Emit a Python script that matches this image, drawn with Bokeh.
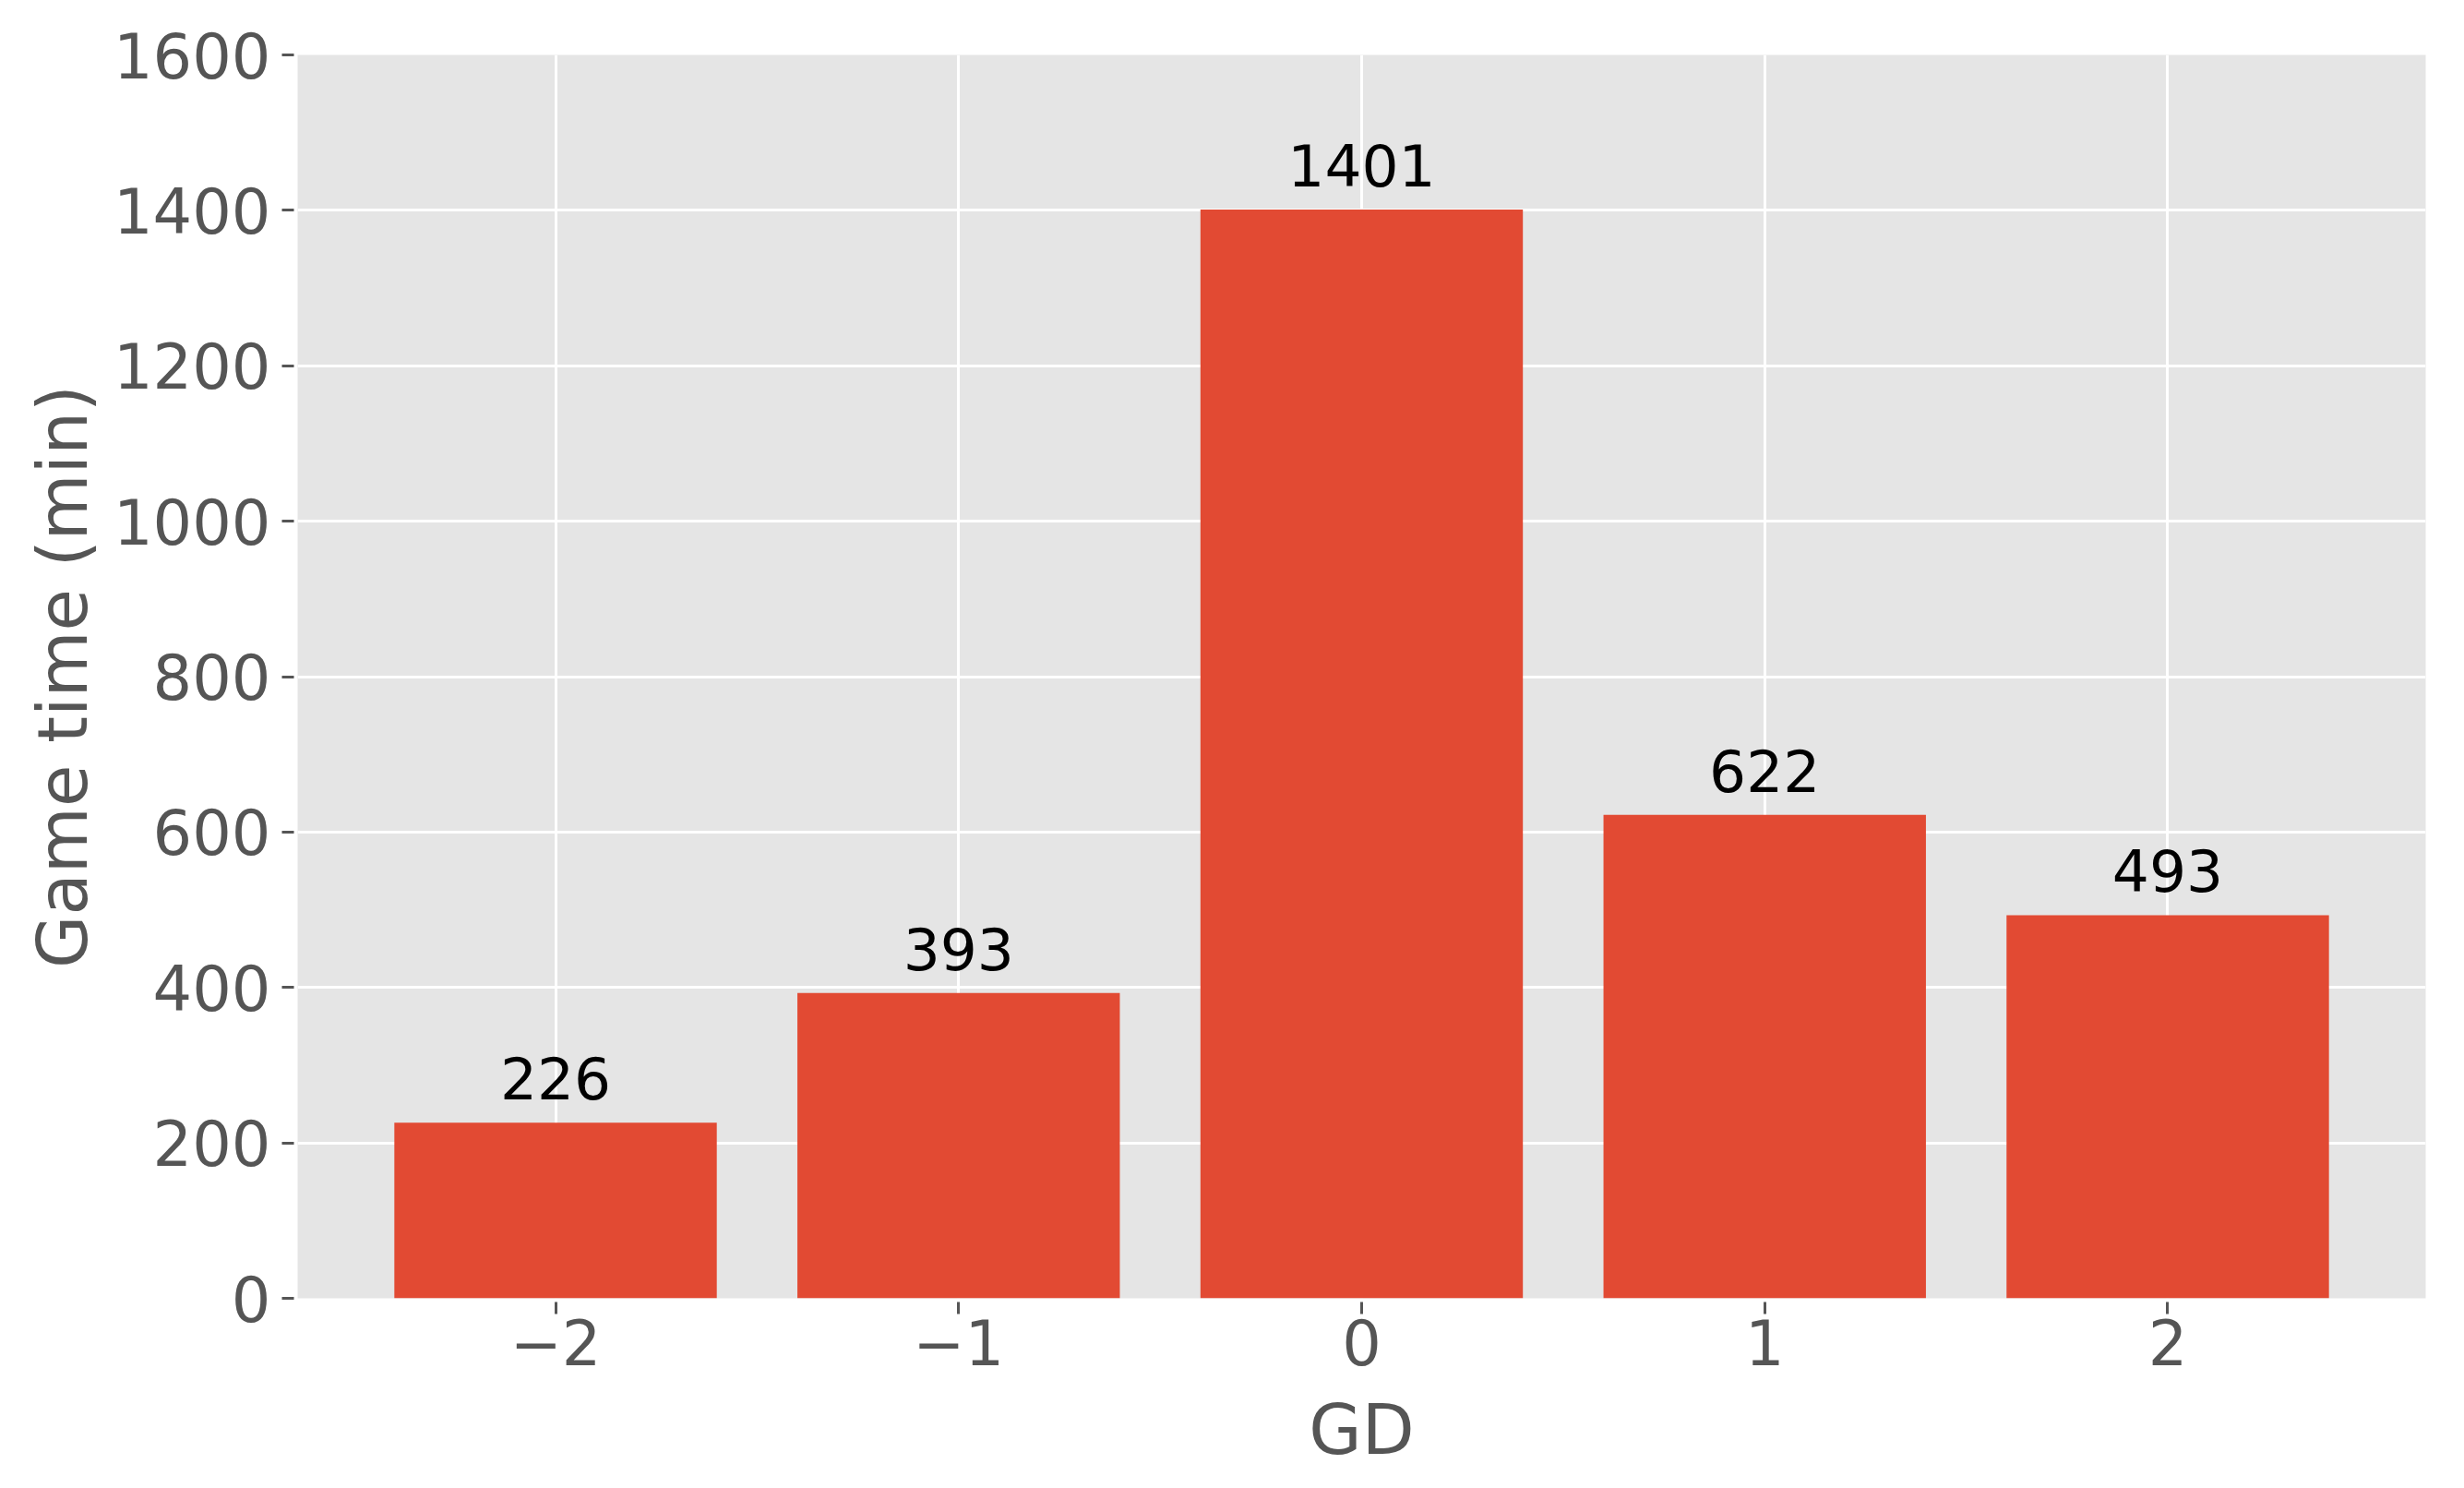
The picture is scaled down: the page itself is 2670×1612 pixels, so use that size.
from bokeh.plotting import figure
from bokeh.models import ColumnDataSource, FixedTicker, Range1d, LabelSet
from bokeh.embed import file_html
from bokeh.resources import INLINE
from bokeh.core.properties import value

# Data
gd = [-2, -1, 0, 1, 2]
game_time = [226, 393, 1401, 622, 493]
bar_labels = [str(v) for v in game_time]
x_tick_labels = {-2: "\u22122", -1: "\u22121", 0: "0", 1: "1", 2: "2"}
y_ticks = [0, 200, 400, 600, 800, 1000, 1200, 1400, 1600]

src = ColumnDataSource(dict(x=gd, top=game_time, label=bar_labels))

FONT = "DejaVu Sans"
p = figure(width=2654, height=1596, output_backend="svg", toolbar_location=None,
           x_range=Range1d(-2.64, 2.64), y_range=Range1d(0, 1600),
           min_border_left=322, min_border_top=59, min_border_right=26, min_border_bottom=190)
p.outline_line_color = None
p.background_fill_color = "#E5E5E5"
p.border_fill_color = "white"

p.vbar(x="x", top="top", bottom=0, width=0.8, source=src, fill_color="#E24A33", line_color=None)
labels = LabelSet(x="x", y="top", text="label", source=src, text_align="center",
                  text_baseline="alphabetic", y_offset=25, text_font=value(FONT),
                  text_font_size=value("63px"), text_color="black")
p.add_layout(labels)

for ax in (p.xaxis[0], p.yaxis[0]):
    ax.axis_line_color = None
    ax.major_tick_line_color = "#555555"
    ax.major_tick_line_width = 3
    ax.major_tick_in = -4
    ax.major_tick_out = 17
    ax.minor_tick_line_color = None
    ax.major_label_text_font = FONT
    ax.major_label_text_font_size = "67px"
    ax.major_label_text_color = "#555555"
    ax.axis_label_text_font = FONT
    ax.axis_label_text_font_size = "74px"
    ax.axis_label_text_color = "#555555"
    ax.axis_label_text_font_style = "normal"

p.xaxis.ticker = FixedTicker(ticks=gd)
p.xaxis.major_label_overrides = x_tick_labels
p.yaxis.ticker = FixedTicker(ticks=y_ticks)
p.xaxis.axis_label = "GD"
p.yaxis.axis_label = "Game time (min)"
p.xaxis.major_label_standoff = 5
p.yaxis.major_label_standoff = 12
p.xaxis.axis_label_standoff = 24
p.yaxis.axis_label_standoff = 9

p.xgrid.ticker = FixedTicker(ticks=gd)
p.ygrid.ticker = FixedTicker(ticks=y_ticks)
for g in (p.xgrid[0], p.ygrid[0]):
    g.grid_line_color = "white"
    g.grid_line_width = 3

open("out.html", "w").write(file_html(p, INLINE))
